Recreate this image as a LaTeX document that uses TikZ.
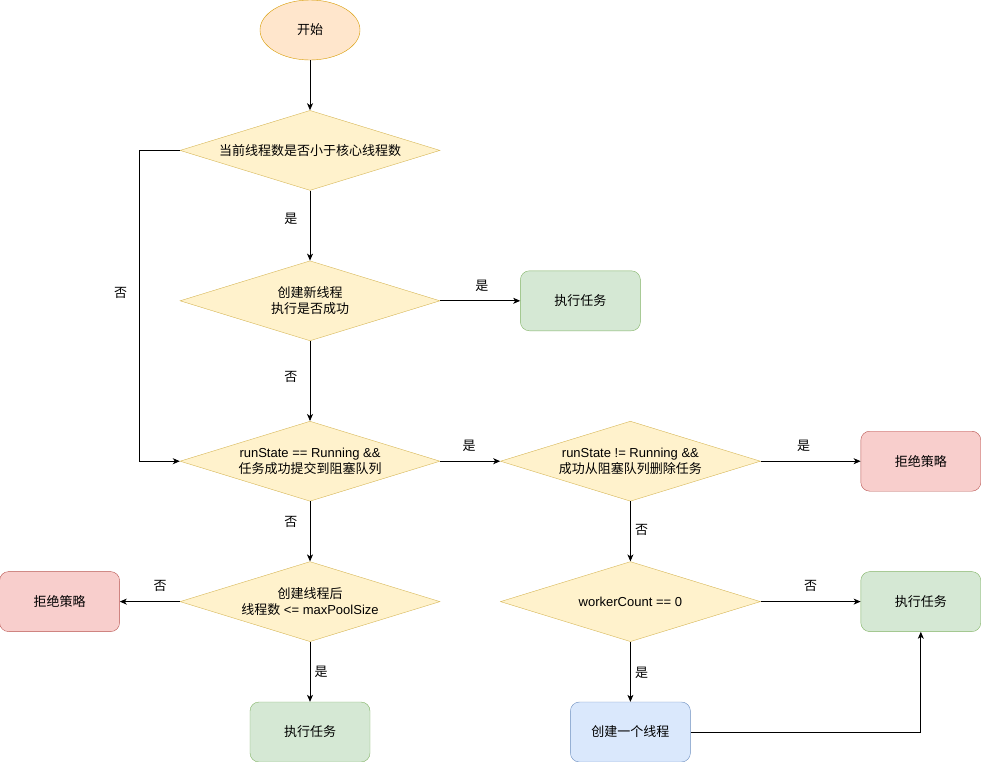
\documentclass[tikz,border=0pt]{standalone}
\usepackage{fontspec}
\setmainfont{Liberation Sans}
\newfontfamily\zhfont{Noto Sans CJK SC}
\newcommand{\zh}[1]{{\zhfont #1}}
\usepackage{tikz}
\usetikzlibrary{arrows.meta, positioning, shapes.geometric}
\definecolor{orangefill}{HTML}{FFE6CC}
\definecolor{orangeline}{HTML}{D79B00}
\definecolor{yellowfill}{HTML}{FFF2CC}
\definecolor{yellowline}{HTML}{D6B656}
\definecolor{greenfill}{HTML}{D5E8D4}
\definecolor{greenline}{HTML}{82B366}
\definecolor{redfill}{HTML}{F8CECC}
\definecolor{redline}{HTML}{B85450}
\definecolor{bluefill}{HTML}{DAE8FC}
\definecolor{blueline}{HTML}{6C8EBF}

\begin{document}
\begin{tikzpicture}[x=1pt, y=-1pt, font=\fontsize{13}{16}\selectfont,
    startnode/.style={ellipse, draw=orangeline, fill=orangefill, minimum width=100pt, minimum height=60pt, inner sep=0pt},
    decision/.style={diamond, draw=yellowline, fill=yellowfill, minimum width=260pt, minimum height=80pt, inner sep=0pt, aspect=3.25, align=center},
    taskbox/.style={rectangle, rounded corners=9pt, minimum width=120pt, minimum height=60pt, align=center},
    greenbox/.style={taskbox, draw=greenline, fill=greenfill},
    redbox/.style={taskbox, draw=redline, fill=redfill},
    bluebox/.style={taskbox, draw=blueline, fill=bluefill},
    arr/.style={-{Stealth[length=7pt, width=6pt, inset=2pt]}, line width=0.8pt},
    lbl/.style={font=\zhfont\fontsize{13}{16}\selectfont}]

\useasboundingbox (0,0) rectangle (981,761);

% --- main column ---
\node[startnode] (start) at (310,30) {\zh{开始}};
\node[decision, below=50pt of start] (core) {\zh{当前线程数是否小于核心线程数}};
\node[decision, below=70pt of core] (create) {\zh{创建新线程}\\\zh{执行是否成功}};
\node[greenbox, right=80pt of create] (runa) {\zh{执行任务}};
\node[decision, below=80pt of create] (queue) {runState == Running \&\&\\\zh{任务成功提交到阻塞队列}};
\node[decision, below=60pt of queue] (pool) {\zh{创建线程后}\\\zh{线程数} <= maxPoolSize};
\node[redbox, left=60pt of pool] (rejectb) {\zh{拒绝策略}};
\node[greenbox, below=60pt of pool] (runb) {\zh{执行任务}};

% --- right column ---
\node[decision, right=60pt of queue] (remove) {runState != Running \&\&\\\zh{成功从阻塞队列删除任务}};
\node[redbox, right=100pt of remove] (rejecta) {\zh{拒绝策略}};
\node[decision, below=60pt of remove] (worker) {workerCount == 0};
\node[greenbox, right=100pt of worker] (runc) {\zh{执行任务}};
\node[bluebox, below=60pt of worker] (addthread) {\zh{创建一个线程}};

% --- arrows ---
\draw[arr] (start) -- (core);
\draw[arr] (core) -- node[lbl, pos=.4, left=9pt]{是} (create);
\draw[arr] (core.west) -- ++(-40,0) |- node[lbl, pos=.23, left=9pt]{否} (queue.west);
\draw[arr] (create) -- node[lbl, pos=.52, above=6pt]{是} (runa);
\draw[arr] (create) -- node[lbl, pos=.45, left=9pt]{否} (queue);
\draw[arr] (queue) -- node[lbl, pos=.48, above=6pt]{是} (remove);
\draw[arr] (queue) -- node[lbl, pos=.35, left=9pt]{否} (pool);
\draw[arr] (pool) -- node[lbl, pos=.33, above=6pt]{否} (rejectb);
\draw[arr] (pool) -- node[lbl, pos=.5, right=1pt]{是} (runb);
\draw[arr] (remove) -- node[lbl, pos=.43, above=6pt]{是} (rejecta);
\draw[arr] (remove) -- node[lbl, pos=.48, right=1pt]{否} (worker);
\draw[arr] (worker) -- node[lbl, pos=.5, above=6pt]{否} (runc);
\draw[arr] (worker) -- node[lbl, pos=.52, right=1pt]{是} (addthread);
\draw[arr] (addthread.east) -| (runc.south);

\end{tikzpicture}
\end{document}
